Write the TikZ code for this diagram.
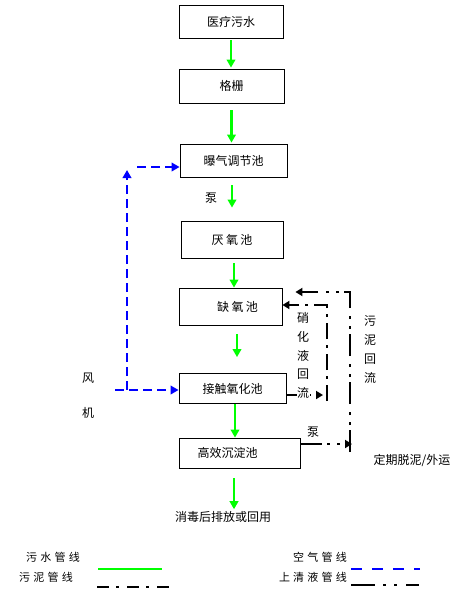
\documentclass[tikz,border=0pt]{standalone}
\usepackage{fontspec}
\setmainfont{Noto Sans CJK SC}
\usetikzlibrary{arrows.meta}
\newcommand{\ls}{\hspace{3.2pt}}
\begin{document}
\begin{tikzpicture}[x=1pt,y=-1pt,
  font=\fontsize{12}{14}\selectfont,
  box/.style={draw,line width=0.8pt,inner sep=0pt},
  lbl/.style={inner sep=0pt},
  flow/.style={draw={rgb,255:red,0;green,255;blue,0},line width=2.6pt,-{Triangle[width=8.5pt,length=8pt]}},
  air/.style={draw={rgb,255:red,0;green,0;blue,255},line width=2.6pt,dash pattern=on 9pt off 5pt,-{Triangle[width=8.5pt,length=8pt]}},
  ret/.style={draw=black,line width=2.6pt,dash pattern=on 16pt off 6pt on 3pt off 6pt},
  sludge/.style={draw=black,line width=2.6pt,dash pattern=on 22pt off 5pt on 3pt off 7pt on 3pt off 8pt},
  tip/.style={-{Triangle[width=8pt,length=7pt]}},
  vtext/.style={inner sep=0.5pt,align=center,font=\fontsize{12}{18.7}\selectfont},
  legend/.style={inner sep=0pt,anchor=east,font=\fontsize{11}{13}\selectfont}]
\useasboundingbox (0,0) rectangle (468,596);

% process boxes
\node[box,minimum width=104pt,minimum height=33pt] (b1) at (231,21.5) {医疗污水};
\node[box,minimum width=105pt,minimum height=34pt] (b2) at (231.5,86) {格栅};
\node[box,minimum width=107pt,minimum height=33pt] (b3) at (233.5,160.5) {曝气调节池};
\node[box,minimum width=102pt,minimum height=37pt] (b4) at (232,239.5) {厌\hspace{2.5pt}氧\hspace{2.5pt}池};
\node[box,minimum width=103pt,minimum height=37pt] (b5) at (230.5,306.5) {\hspace{14pt}缺\hspace{2.5pt}氧\hspace{2.5pt}池};
\node[box,minimum width=107pt,minimum height=30pt] (b6) at (232.5,388.5) {接触氧化池};
\node[box,minimum width=121pt,minimum height=30pt] (b7) at (239.5,453) {\hspace{-24pt}高效沉淀池};
\node[lbl] (out) at (223,517) {消毒后排放或回用};

% sewage flow
\draw[flow,shorten <=2pt,shorten >=1pt] (b1.south) -- (b1.south |- b2.north);
\draw[flow,shorten <=7pt,shorten >=1pt] (b2.south) -- (b2.south |- b3.north);
\draw[flow,shorten <=8pt,shorten >=13pt] ([xshift=-1.5pt]b3.south) -- ([xshift=-1.5pt]b3.south |- b4.north);
\draw[flow,shorten <=5pt] ([xshift=2pt]b4.south) -- ([xshift=2pt]b4.south |- b5.north);
\draw[flow,shorten <=9pt,shorten >=16pt] ([xshift=6.5pt]b5.south) -- ([xshift=6.5pt]b5.south |- b6.north);
\draw[flow] ([xshift=2.5pt]b6.south) -- ([xshift=2.5pt]b6.south |- b7.north);
\draw[flow,shorten <=10pt,shorten >=2pt] ([xshift=-5.5pt]b7.south) -- ([xshift=-5.5pt]b7.south |- out.north);

% labels
\node[lbl] (p1) at (211,198) {泵};
\node[lbl] (p2) at (313,432) {泵};
\node[lbl] (f1) at (88,378) {风};
\node[lbl] (f2) at (88,413) {机};
\node[lbl] (dump) at (412,460) {定期脱泥/外运};

% air line
\coordinate (fan) at (115,390);
\coordinate (bend) at (127,390);
\coordinate (up) at (127,170);
\coordinate (top) at (137,167);
\draw[air] (fan) -- (fan -| b6.west);
\draw[air] (bend) -- (up);
\draw[air] (top) -- (top -| b3.west);

% nitrified liquid return
\coordinate (n1) at (327,395);
\coordinate (n2) at (327,305);
\draw[ret,tip] (b6.east |- n1) -- ([xshift=-4pt]n1);
\draw[ret,tip] ([yshift=-6pt]n1) -- (n2) -- (b5.east |- n2);
\node[vtext,fill=white] (nt) at (303,355.5) {硝\\化\\液\\回\\流};

% sludge return
\coordinate (s1) at (350,444);
\coordinate (s2) at (350,292);
\draw[sludge,tip] (b7.east |- s1) -- ([xshift=2pt]s1);
\draw[sludge,tip] ([yshift=-8pt]s1) -- (s2) -- ([xshift=13pt]b5.east |- s2);
\node[vtext] (st) at (370,349.5) {污\\泥\\回\\流};

% legend
\node[legend] (lg1) at (80,557) {污\ls 水\ls 管\ls 线};
\node[legend] (lg2) at (73,577) {污\ls 泥\ls 管\ls 线};
\node[legend] (lg3) at (347,557) {空\ls 气\ls 管\ls 线};
\node[legend] (lg4) at (347,577) {上\ls 清\ls 液\ls 管\ls 线};
\coordinate (g1) at (98,569);  \coordinate (g2) at (162,569);
\coordinate (k1) at (97,587);  \coordinate (k2) at (169,587);
\coordinate (a1) at (351,569); \coordinate (a2) at (420,569);
\coordinate (c1) at (351,585); \coordinate (c2) at (419,585);
\draw[draw={rgb,255:red,0;green,255;blue,0},line width=2.6pt] (g1) -- (g2);
\draw[draw=black,line width=2.6pt,dash pattern=on 12pt off 7pt on 3pt off 8pt] (k1) -- (k2);
\draw[draw={rgb,255:red,0;green,0;blue,255},line width=2.6pt,dash pattern=on 11pt off 10pt] (a1) -- (a2);
\draw[draw=black,line width=2.6pt,dash pattern=on 24pt off 8pt on 3pt off 8pt on 3pt off 9pt] (c1) -- (c2);
\end{tikzpicture}
\end{document}
